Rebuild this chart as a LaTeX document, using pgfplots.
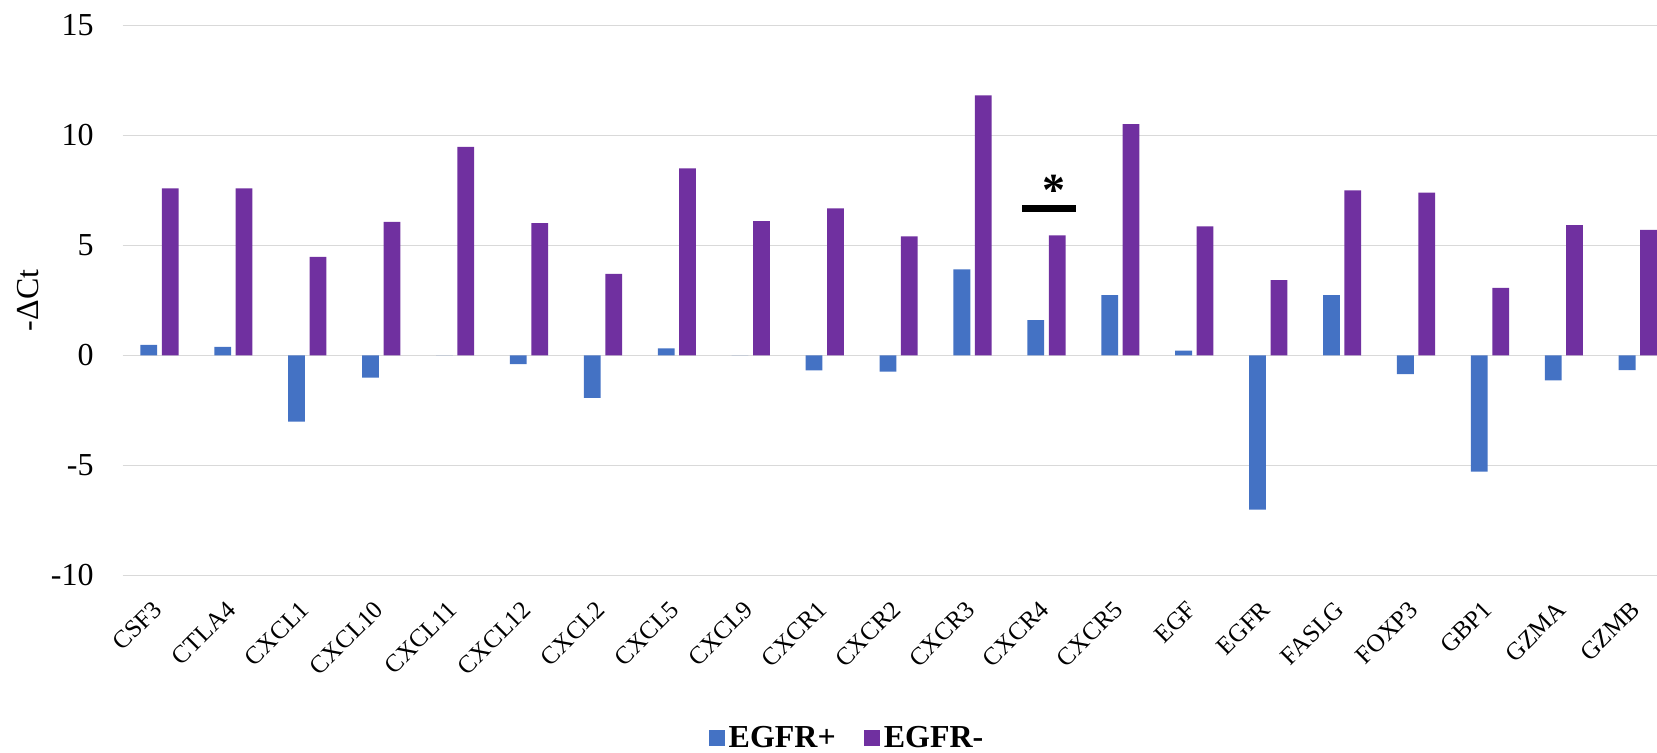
\documentclass[border=0pt]{standalone}
\usepackage{fontspec}
\setmainfont{Liberation Serif}
\usepackage{pgfplots}
\pgfplotsset{compat=1.18}
\definecolor{egfrpos}{HTML}{4472C4}
\definecolor{egfrneg}{HTML}{7030A0}
\definecolor{gridgray}{HTML}{D9D9D9}
\begin{document}
\begin{tikzpicture}
\path[use as bounding box] (-61.25pt,-88.85pt) rectangle (767.25pt,287.65pt);
\begin{axis}[
  scale only axis,
  width=767.25pt, height=275pt,
  ybar=2.3pt, bar width=8.4pt,
  xmin=-0.5, xmax=20.26,
  ymin=-10, ymax=15,
  xtick={0,...,20},
  xticklabels={CSF3,CTLA4,CXCL1,CXCL10,CXCL11,CXCL12,CXCL2,CXCL5,CXCL9,CXCR1,CXCR2,CXCR3,CXCR4,CXCR5,EGF,EGFR,FASLG,FOXP3,GBP1,GZMA,GZMB},
  ytick={-10,-5,0,5,10,15},
  yticklabels={-10,-5,0,5,10,15},
  ymajorgrids,
  major grid style={color=gridgray, line width=0.75pt},
  axis line style={draw=none},
  tick style={draw=none},
  major tick length=0pt,
  xticklabel style={yshift=-15pt, xshift=-1pt, rotate=45, anchor=east, inner sep=0pt, font=\fontsize{12.5}{14}\selectfont},
  yticklabel style={anchor=east, inner sep=0pt, xshift=-14.25pt, font=\fontsize{16}{18}\selectfont},
  ylabel={-ΔCt},
  ylabel style={at={(axis description cs:-0.0618,0.5)}, anchor=center, font=\fontsize{16}{18}\selectfont},
  legend style={at={(0.4728,-0.2958)}, anchor=center, draw=none, legend columns=2,
    font=\bfseries\fontsize{16}{18}\selectfont,
    /tikz/every even column/.append style={column sep=12pt}},
  legend image code/.code={\fill[#1] (0pt,-4pt) rectangle (8pt,4pt);},
  clip=true,
]
\addplot[fill=egfrpos, draw=none] coordinates {
(0,0.47) (1,0.38) (2,-3.02) (3,-1.01) (4,0) (5,-0.40) (6,-1.93) (7,0.32) (8,0) (9,-0.68)
(10,-0.74) (11,3.91) (12,1.60) (13,2.73) (14,0.21) (15,-7.02) (16,2.73) (17,-0.86) (18,-5.29) (19,-1.14) (20,-0.67)};
\addplot[fill=egfrneg, draw=none] coordinates {
(0,7.59) (1,7.59) (2,4.47) (3,6.07) (4,9.47) (5,6.01) (6,3.70) (7,8.50) (8,6.10) (9,6.68)
(10,5.41) (11,11.82) (12,5.45) (13,10.51) (14,5.86) (15,3.42) (16,7.50) (17,7.39) (18,3.07) (19,5.92) (20,5.70)};
\legend{EGFR+,EGFR-}
\draw[line width=3.3pt] (axis cs:11.67,6.68) -- (axis cs:12.40,6.68);
\node[font=\bfseries\fontsize{23}{23}\selectfont] at (axis cs:12.1,7.52) {*};
\end{axis}
\end{tikzpicture}
\end{document}
